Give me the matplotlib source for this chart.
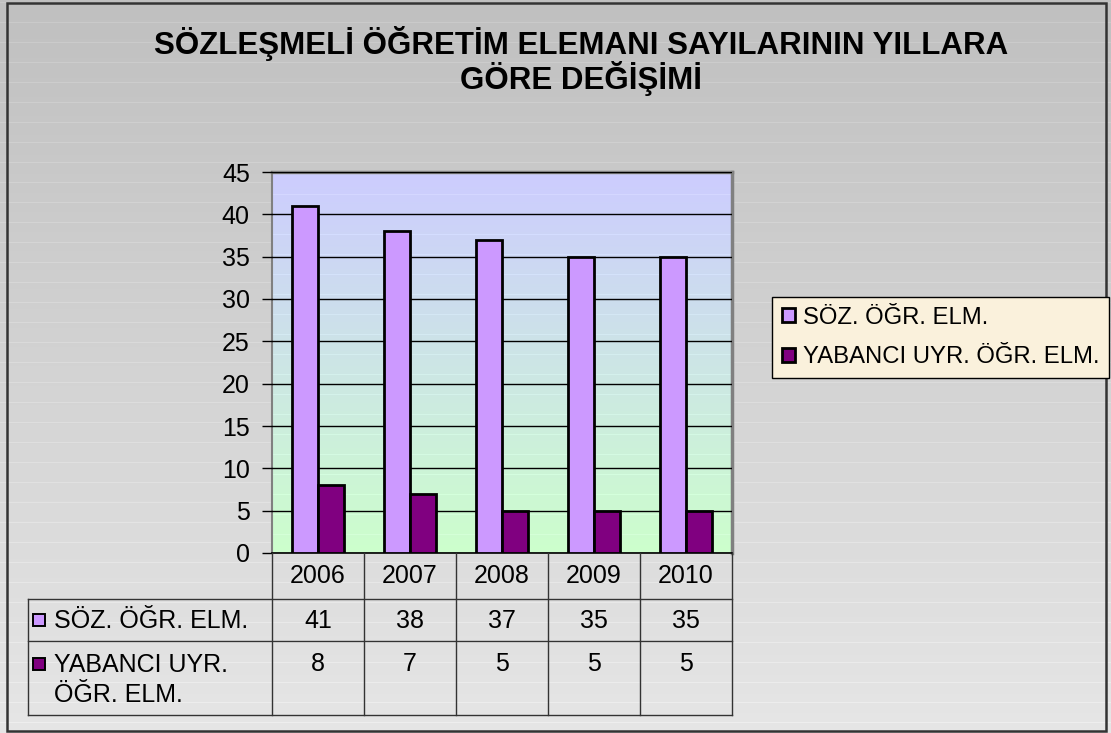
import numpy as np
import matplotlib.pyplot as plt
from matplotlib.patches import Rectangle
from matplotlib.colors import to_rgb

plt.rcParams["font.family"] = ["Liberation Sans", "DejaVu Sans"]

# veriler
years = ["2006", "2007", "2008", "2009", "2010"]
soz_ogr = [41, 38, 37, 35, 35]
yabanci_ogr = [8, 7, 5, 5, 5]
series_names = ["SÖZ. ÖĞR. ELM.", "YABANCI UYR. ÖĞR. ELM."]
table_labels = ["SÖZ. ÖĞR. ELM.", "YABANCI UYR.\nÖĞR. ELM."]
title = "SÖZLEŞMELİ ÖĞRETİM ELEMANI SAYILARININ YILLARA\nGÖRE DEĞİŞİMİ"

colors = ["#cc99ff", "#800080"]
FS = 18

W, H = 1111, 733
fig = plt.figure(figsize=(W / 100, H / 100), dpi=100)


def px_box(x0, y0, x1, y1):
    # piksel koordinatlarından (üst-sol kökenli) figür kesirine
    return [x0 / W, 1 - y1 / H, (x1 - x0) / W, (y1 - y0) / H]


def gradient(top, bottom, n, stripes=True):
    t = np.linspace(0, 1, n)[:, None]
    c = (1 - t) * np.array(to_rgb(top)) + t * np.array(to_rgb(bottom))
    if stripes:
        rows = (np.arange(n) % 20) == 2
        c[rows] = np.clip(c[rows] + 0.035, 0, 1)
    return c[:, None, :]


# arka plan
bg = fig.add_axes([0, 0, 1, 1], zorder=-10)
bg.imshow(gradient("#c0c0c0", "#e6e6e6", H), aspect="auto", extent=[0, 1, 0, 1])
bg.set_axis_off()
fig.add_artist(Rectangle((7 / W, 1 - 731 / H), 1099 / W, 728 / H,
                         transform=fig.transFigure, fill=False,
                         edgecolor="#333333", linewidth=1.8))

fig.text(581 / W, 1 - 61 / H, title, ha="center", va="center",
         fontsize=22.5, fontweight="bold", linespacing=1.0)

# grafik alanı
pl, pt, pr, pb = 272, 172, 732, 553
ax = fig.add_axes(px_box(pl, pt, pr, pb))
ax.imshow(gradient("#ccccff", "#ccffcc", 381), aspect="auto",
          extent=[-0.5, 4.5, 0, 45], zorder=0)

x = np.arange(len(years))
w = 0.285
ax.bar(x - w / 2, soz_ogr, w, color=colors[0], edgecolor="black",
       linewidth=2, zorder=3, label=series_names[0])
ax.bar(x + w / 2, yabanci_ogr, w, color=colors[1], edgecolor="black",
       linewidth=2, zorder=3, label=series_names[1])

ax.set_xlim(-0.5, 4.5)
ax.set_ylim(0, 45)
ax.set_yticks(np.arange(0, 46, 5))
ax.set_xticks([])
ax.yaxis.grid(True, color="black", linewidth=1)
ax.set_axisbelow(False)
for gl in ax.get_ygridlines():
    gl.set_zorder(1)
ax.tick_params(axis="y", direction="out", length=7, width=1,
               labelsize=FS, pad=9, colors="black")
ax.spines["top"].set_color("#808080")
ax.spines["right"].set_color("#808080")
ax.spines["top"].set_linewidth(2.5)
ax.spines["right"].set_linewidth(2.5)
ax.spines["left"].set_color("#808080")
ax.spines["left"].set_linewidth(1.5)
ax.spines["bottom"].set_color("black")
ax.spines["bottom"].set_linewidth(1.2)

# veri tablosu
tl, tb = 28, 715
tax = fig.add_axes(px_box(tl, pb, pr, tb))
unit = (pr - pl) / 5
x0 = -0.5 - (pl - tl) / unit
tax.set_xlim(x0, 4.5)
tax.set_ylim(tb - pb, 0)
tax.set_axis_off()
tax.patch.set_visible(False)

lc = "#333333"
for rowy in [46, 88, 162]:
    tax.plot([x0, 4.5], [rowy, rowy], color=lc, linewidth=1, clip_on=False)
for cx in np.arange(-0.5, 5.0, 1.0):
    tax.plot([cx, cx], [0, 162], color=lc, linewidth=1, clip_on=False)
tax.plot([x0, x0], [46, 162], color=lc, linewidth=1, clip_on=False)

for i, yr in enumerate(years):
    tax.text(i, 23, yr, ha="center", va="center", fontsize=FS)
    tax.text(i, 68, str(soz_ogr[i]), ha="center", va="center", fontsize=FS)
    tax.text(i, 111, str(yabanci_ogr[i]), ha="center", va="center", fontsize=FS)

sq = 12 / unit
tax.add_patch(Rectangle((x0 + 5 / unit, 67 - 6), sq, 12, facecolor=colors[0],
                        edgecolor="black", linewidth=1.4, clip_on=False))
tax.text(x0 + 26 / unit, 68, table_labels[0], ha="left", va="center", fontsize=FS)
tax.add_patch(Rectangle((x0 + 5 / unit, 105), sq, 12, facecolor=colors[1],
                        edgecolor="black", linewidth=1.4, clip_on=False))
tax.text(x0 + 26 / unit, 100, table_labels[1], ha="left", va="top",
         fontsize=FS, linespacing=1.3)

# lejant
fig.legend(loc="upper left", bbox_to_anchor=(772 / W, 1 - 297 / H),
           fontsize=17.2, frameon=True, fancybox=False, facecolor="#faf1dc",
           edgecolor="black", framealpha=1, handlelength=0.55, handleheight=0.55,
           handletextpad=0.35, borderpad=0.4, labelspacing=0.75,
           borderaxespad=0)

fig.savefig("out.png", dpi=100)
